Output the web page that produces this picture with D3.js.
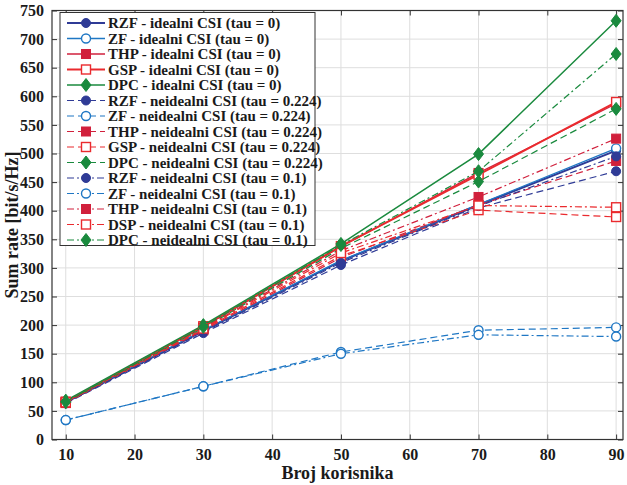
<!DOCTYPE html>
<html>
<head>
<meta charset="utf-8">
<script src="https://cdn.jsdelivr.net/npm/d3@7"></script>
<style>
  body { margin: 0; background: #fff; }
  svg text { font-family: "Liberation Serif", "Times New Roman", serif !important; font-weight: bold; fill: #1a1a1a; }
</style>
</head>
<body>
<svg id="chart"></svg>
<script>
//data
const users = [10, 30, 50, 70, 90];
const rzfIdeal = [65, 190, 312, 410, 505];
const zfIdeal = [66, 191, 313, 411, 509];
const thpIdeal = [66, 197, 337, 466, 587];
const gspIdeal = [66, 198, 338, 463, 590];
const dpcIdeal = [68, 200, 342, 499, 732];
const rzf224 = [63, 186, 305, 405, 469];
const zf224 = [34, 93, 153, 191, 196];
const thp224 = [64, 191, 318, 410, 487];
const gsp224 = [64, 193, 321, 401, 389];
const dpc224 = [65, 195, 334, 451, 578];
const rzf01 = [64, 188, 309, 408, 495];
const zf01 = [34, 93, 150, 183, 180];
const thp01 = [65, 195, 330, 424, 526];
const dsp01 = [65, 194, 326, 409, 406];
const dpc01 = [66, 197, 340, 469, 674];
const xTicks = [10, 20, 30, 40, 50, 60, 70, 80, 90];
const yTicks = d3.range(0, 751, 50);

//styles
const C = { rzf: '#2f3b96', zf: '#1f77c4', thp: '#d1203c', gsp: '#ea2a2e', dpc: '#1a8a3e' };
const SOLID = null, DASH = '7,4', DASHDOT = '7,3,2,3';

const series = [
  { name: 'RZF - idealni CSI (tau = 0)', v: rzfIdeal, c: C.rzf, dash: SOLID, w: 2, m: 'circle', fill: true },
  { name: 'ZF - idealni CSI (tau = 0)', v: zfIdeal, c: C.zf, dash: SOLID, w: 1.3, m: 'circle', fill: false },
  { name: 'THP - idealni CSI (tau = 0)', v: thpIdeal, c: C.thp, dash: SOLID, w: 1.3, m: 'square', fill: true },
  { name: 'GSP - idealni CSI (tau = 0)', v: gspIdeal, c: C.gsp, dash: SOLID, w: 2, m: 'square', fill: false },
  { name: 'DPC - idealni CSI (tau = 0)', v: dpcIdeal, c: C.dpc, dash: SOLID, w: 1.5, m: 'diamond', fill: true },
  { name: 'RZF - neidealni CSI (tau = 0.224)', v: rzf224, c: C.rzf, dash: DASH, w: 1.2, m: 'circle', fill: true },
  { name: 'ZF - neidealni CSI (tau = 0.224)', v: zf224, c: C.zf, dash: DASH, w: 1.2, m: 'circle', fill: false },
  { name: 'THP - neidealni CSI (tau = 0.224)', v: thp224, c: C.thp, dash: DASH, w: 1.2, m: 'square', fill: true },
  { name: 'GSP - neidealni CSI (tau = 0.224)', v: gsp224, c: C.gsp, dash: DASH, w: 1.2, m: 'square', fill: false },
  { name: 'DPC - neidealni CSI (tau = 0.224)', v: dpc224, c: C.dpc, dash: DASH, w: 1.2, m: 'diamond', fill: true },
  { name: 'RZF - neidealni CSI (tau = 0.1)', v: rzf01, c: C.rzf, dash: DASHDOT, w: 1.2, m: 'circle', fill: true },
  { name: 'ZF - neidealni CSI (tau = 0.1)', v: zf01, c: C.zf, dash: DASHDOT, w: 1.2, m: 'circle', fill: false },
  { name: 'THP - neidealni CSI (tau = 0.1)', v: thp01, c: C.thp, dash: DASHDOT, w: 1.2, m: 'square', fill: true },
  { name: 'DSP - neidealni CSI (tau = 0.1)', v: dsp01, c: C.gsp, dash: DASHDOT, w: 1.2, m: 'square', fill: false },
  { name: 'DPC - neidealni CSI (tau = 0.1)', v: dpc01, c: C.dpc, dash: DASHDOT, w: 1.2, m: 'diamond', fill: true }
];

//margin convention
const margin = { top: 10.5, left: 52, bottom: 45.5, right: 4 };
const W = 627, H = 485;
const width = W - margin.left - margin.right;
const height = H - margin.top - margin.bottom;

const svg = d3.select('#chart').attr('width', W).attr('height', H)
  .append('g').attr('transform', 'translate(' + margin.left + ',' + margin.top + ')');

const xScale = d3.scaleLinear().domain([8, 91]).range([0, width]);
const yScale = d3.scaleLinear().domain([0, 750]).range([height, 0]);

//grid
svg.append('g').selectAll('line').data(xTicks).enter().append('line')
  .attr('x1', d => xScale(d)).attr('x2', d => xScale(d))
  .attr('y1', 0).attr('y2', height)
  .attr('stroke', '#dedede').attr('stroke-width', 1);
svg.append('g').selectAll('line').data(yTicks).enter().append('line')
  .attr('x1', 0).attr('x2', width)
  .attr('y1', d => yScale(d)).attr('y2', d => yScale(d))
  .attr('stroke', '#dedede').attr('stroke-width', 1);

//axes
const xAxis = d3.axisBottom(xScale).tickValues(xTicks).tickSize(-5).tickPadding(9);
const yAxis = d3.axisLeft(yScale).tickValues(yTicks).tickSize(-5).tickPadding(8);
const gx = svg.append('g').attr('transform', 'translate(0,' + height + ')').call(xAxis);
const gy = svg.append('g').call(yAxis);
svg.append('g').call(d3.axisTop(xScale).tickValues(xTicks).tickSize(-5).tickFormat(''));
svg.append('g').attr('transform', 'translate(' + width + ',0)')
  .call(d3.axisRight(yScale).tickValues(yTicks).tickSize(-5).tickFormat(''));
svg.selectAll('.domain').remove();
svg.selectAll('.tick line').attr('stroke', '#333');
[gx, gy].forEach(g => g.attr('font-family', 'Liberation Serif').attr('font-size', 16)
  .selectAll('text').attr('fill', '#1a1a1a'));
svg.append('rect').attr('width', width).attr('height', height)
  .attr('fill', 'none').attr('stroke', '#333').attr('stroke-width', 1.2);

//marker drawing
function marker(g, type, x, y, s) {
  let el;
  if (type === 'circle') el = g.append('circle').attr('cx', x).attr('cy', y).attr('r', 4.5);
  else if (type === 'square') el = g.append('rect').attr('x', x - 4.5).attr('y', y - 4.5).attr('width', 9).attr('height', 9);
  else el = g.append('path').attr('d', `M${x},${y - 6.5}L${x + 5},${y}L${x},${y + 6.5}L${x - 5},${y}Z`);
  el.attr('fill', s.fill ? s.c : '#fff').attr('stroke', s.c).attr('stroke-width', s.fill ? 1 : 1.4);
}

const line = d3.line().x((d, i) => xScale(users[i])).y(d => yScale(d));

//plot series
series.forEach(s => {
  const g = svg.append('g');
  g.append('path').datum(s.v).attr('d', line)
    .attr('fill', 'none').attr('stroke', s.c).attr('stroke-width', s.w)
    .attr('stroke-dasharray', s.dash);
  s.v.forEach((v, i) => marker(g, s.m, xScale(users[i]), yScale(v), s));
});

//legend
const lg = svg.append('g').attr('transform', 'translate(8,2)');
lg.append('rect').attr('width', 255).attr('height', 233)
  .attr('fill', '#fff').attr('stroke', '#333').attr('stroke-width', 1);
series.forEach((s, i) => {
  const y = 10.5 + i * 15.5;
  const r = lg.append('g');
  r.append('line').attr('x1', 7).attr('x2', 45).attr('y1', y).attr('y2', y)
    .attr('stroke', s.c).attr('stroke-width', s.w).attr('stroke-dasharray', s.dash);
  marker(r, s.m, 26, y, s);
  r.append('text').attr('x', 48).attr('y', y).attr('dy', '0.35em')
    .style('font-size', '15px').text(s.name);
});

//axis titles
d3.select('#chart').append('text')
  .attr('x', margin.left + width / 2).attr('y', 479)
  .attr('text-anchor', 'middle').style('font-size', '18px').text('Broj korisnika');
d3.select('#chart').append('text')
  .attr('transform', 'translate(18,' + (margin.top + height / 2) + ') rotate(-90)')
  .attr('text-anchor', 'middle').style('font-size', '18px').text('Sum rate [bit/s/Hz]');
</script>
</body>
</html>
